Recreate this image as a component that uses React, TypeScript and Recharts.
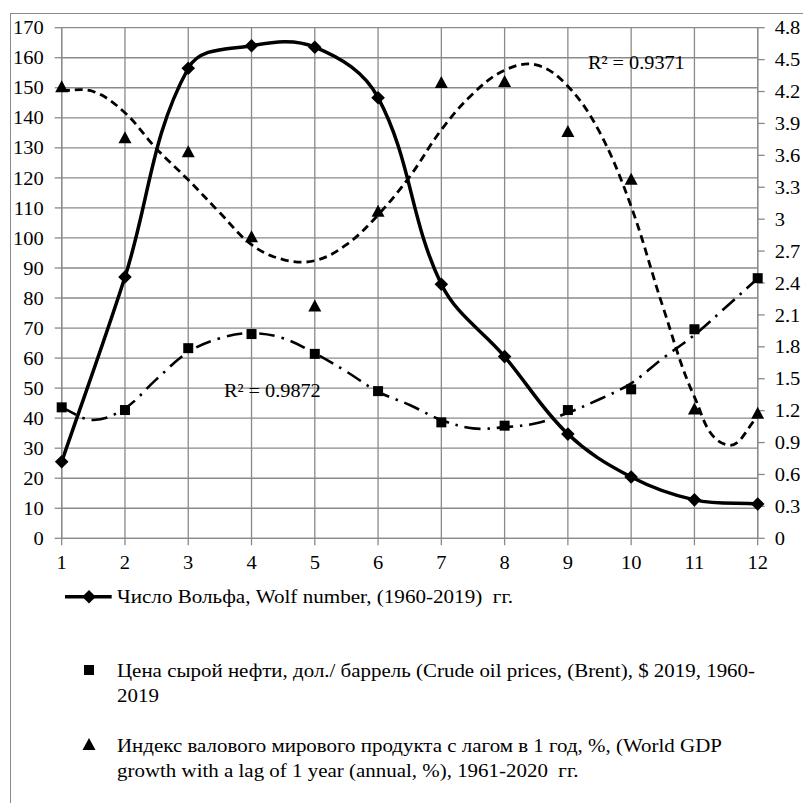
import React from 'react';
import { ComposedChart, Line, XAxis, YAxis, CartesianGrid } from 'recharts';

// ---- data ----
const categories = [1, 2, 3, 4, 5, 6, 7, 8, 9, 10, 11, 12];
const wolfNumber = [25.5, 87, 156.5, 164, 163.5, 146.7, 84.6, 60.5, 34.7, 20.4, 12.8, 11.4];
const oilPrice = [43.6, 42.7, 63.3, 68, 61.4, 49, 38.6, 37.5, 42.7, 49.6, 69.6, 86.6];
const gdpGrowth = [4.24, 3.76, 3.63, 2.83, 2.18, 3.07, 4.28, 4.29, 3.82, 3.37, 1.21, 1.17];

const trendX = [1, 1.5, 2, 2.5, 3, 3.5, 4, 4.5, 5, 5.5, 6, 6.5, 7, 7.5, 8, 8.5, 9, 9.5, 10, 10.5, 11, 11.5, 12];
const oilTrend = [43.5, 39.4, 43.3, 53, 62, 66.6, 68.3, 66.6, 61.6, 55.5, 48.8, 44.4, 39.4, 36.6, 37, 38.3, 41.8, 46.3, 51.6, 59.9, 67.7, 77, 86.5];
const gdpTrend = [4.21, 4.2, 4.0, 3.66, 3.37, 3.06, 2.76, 2.62, 2.61, 2.76, 3.04, 3.4, 3.84, 4.18, 4.4, 4.45, 4.25, 3.82, 3.12, 2.18, 1.33, 0.88, 1.14];

const leftTicks = [0, 10, 20, 30, 40, 50, 60, 70, 80, 90, 100, 110, 120, 130, 140, 150, 160, 170];
const rightTicks = [0, 0.3, 0.6, 0.9, 1.2, 1.5, 1.8, 2.1, 2.4, 2.7, 3, 3.3, 3.6, 3.9, 4.2, 4.5, 4.8];

const wolfLabel = 'Число Вольфа, Wolf number, (1960-2019)  гг.';
const oilLabel = ['Цена сырой нефти, дол./ баррель (Crude oil prices, (Brent), $ 2019, 1960-', '2019'];
const gdpLabel = ['Индекс валового мирового продукта с лагом в 1 год, %, (World GDP', 'growth with a lag of 1 year (annual, %), 1961-2020  гг.'];
const oilR2 = 'R² = 0.9872';
const gdpR2 = 'R² = 0.9371';

// merged table
const rows = trendX.map((x, i) => {
  const ci = categories.indexOf(x);
  return {
    x,
    wolf: ci >= 0 ? wolfNumber[ci] : null,
    oil: ci >= 0 ? oilPrice[ci] : null,
    gdp: ci >= 0 ? gdpGrowth[ci] : null,
    oilTrend: oilTrend[i],
    gdpTrend: gdpTrend[i],
  };
});

// Excel-like smoothing curve
const SMOOTH = 0.36;
function excelCurve(context: any) {
  let pts: number[][] = [];
  return {
    areaStart() {},
    areaEnd() {},
    lineStart() {
      pts = [];
    },
    lineEnd() {
      const n = pts.length;
      if (!n) return;
      context.moveTo(pts[0][0], pts[0][1]);
      if (n === 1) return;
      const tan = pts.map((p, i) => {
        const a = pts[Math.max(0, i - 1)];
        const b = pts[Math.min(n - 1, i + 1)];
        const dx = b[0] - a[0];
        const dy = b[1] - a[1];
        const l = Math.hypot(dx, dy) || 1;
        return [dx / l, dy / l];
      });
      for (let i = 0; i < n - 1; i++) {
        const p0 = pts[i];
        const p1 = pts[i + 1];
        const k = Math.hypot(p1[0] - p0[0], p1[1] - p0[1]) * SMOOTH;
        context.bezierCurveTo(
          p0[0] + tan[i][0] * k,
          p0[1] + tan[i][1] * k,
          p1[0] - tan[i + 1][0] * k,
          p1[1] - tan[i + 1][1] * k,
          p1[0],
          p1[1]
        );
      }
    },
    point(x: number, y: number) {
      pts.push([+x, +y]);
    },
  };
}

const FONT = "'Liberation Serif', 'Times New Roman', serif";
const GRID = '#8a8a8a';
const SX = 1.08;

const Diamond = (props: any) => {
  const { cx, cy, index } = props;
  if (cx == null || cy == null || props.value == null) return <g key={`d${index}`} />;
  const r = 6.8;
  return <path key={`d${index}`} d={`M${cx},${cy - r}L${cx + r},${cy}L${cx},${cy + r}L${cx - r},${cy}Z`} fill="#000" />;
};
const Square = (props: any) => {
  const { cx, cy, index } = props;
  if (cx == null || cy == null || props.value == null) return <g key={`s${index}`} />;
  const r = 5;
  return <rect key={`s${index}`} x={cx - r} y={cy - r} width={2 * r} height={2 * r} fill="#000" />;
};
const Triangle = (props: any) => {
  const { cx, cy, index } = props;
  if (cx == null || cy == null || props.value == null) return <g key={`t${index}`} />;
  return <path key={`t${index}`} d={`M${cx},${cy - 7}L${cx + 6.5},${cy + 5}L${cx - 6.5},${cy + 5}Z`} fill="#000" />;
};

const makeTick = (anchor: 'start' | 'middle' | 'end', dy: string) => (props: any) => {
  const { x, y, payload } = props;
  return (
    <g transform={`translate(${x},${y}) scale(${SX},1)`}>
      <text x={0} y={0} dy={dy} textAnchor={anchor} fill="#000" fontSize={19} fontFamily={FONT}>
        {String(payload.value)}
      </text>
    </g>
  );
};
const LeftTick = makeTick('end', '0.35em');
const RightTick = makeTick('start', '0.35em');
const BottomTick = makeTick('middle', '0.71em');

const textBase: React.CSSProperties = {
  position: 'absolute',
  fontSize: 19,
  lineHeight: '25px',
  whiteSpace: 'pre',
  color: '#000',
  transformOrigin: '0 0',
  fontFamily: FONT,
};

export default function App() {
  return (
    <div style={{ position: 'fixed', left: 0, top: 0, width: 803, height: 803, overflow: 'hidden', background: '#fff', fontFamily: FONT }}>
      <div style={{ position: 'absolute', left: 9.5, top: 12.5, width: 900, height: 900, border: `1px solid ${GRID}` }} />
      <div style={{ position: 'absolute', left: 0, top: 0 }}>
        <ComposedChart width={803} height={803} data={rows} margin={{ top: 27.7, right: 0, bottom: 234.7, left: 0 }}>
          <CartesianGrid yAxisId="left" stroke={GRID} strokeWidth={1.3} />
          <XAxis
            dataKey="x"
            type="number"
            domain={[1, 12]}
            ticks={categories}
            interval={0}
            height={30}
            tickSize={7}
            tickMargin={10}
            tick={BottomTick}
            axisLine={{ stroke: GRID, strokeWidth: 1.3 }}
            tickLine={{ stroke: GRID, strokeWidth: 1.3 }}
          />
          <YAxis
            yAxisId="left"
            domain={[0, 170]}
            ticks={leftTicks}
            interval={0}
            width={61.7}
            tickSize={7}
            tickMargin={11}
            tick={LeftTick}
            axisLine={{ stroke: GRID, strokeWidth: 1.3 }}
            tickLine={{ stroke: GRID, strokeWidth: 1.3 }}
          />
          <YAxis
            yAxisId="right"
            orientation="right"
            domain={[0, 4.8]}
            ticks={rightTicks}
            interval={0}
            width={45.3}
            tickSize={7}
            tickMargin={10}
            tick={RightTick}
            axisLine={{ stroke: GRID, strokeWidth: 1.3 }}
            tickLine={{ stroke: GRID, strokeWidth: 1.3 }}
          />
          <Line yAxisId="left" dataKey="oilTrend" type={excelCurve as any} stroke="#000" strokeWidth={2.6} strokeDasharray="16 7 2.5 7" dot={false} activeDot={false} isAnimationActive={false} />
          <Line yAxisId="right" dataKey="gdpTrend" type={excelCurve as any} stroke="#000" strokeWidth={2.8} strokeDasharray="8 5" dot={false} activeDot={false} isAnimationActive={false} />
          <Line yAxisId="left" dataKey="wolf" type={excelCurve as any} connectNulls stroke="#000" strokeWidth={3.5} dot={Diamond} activeDot={false} isAnimationActive={false} />
          <Line yAxisId="left" dataKey="oil" stroke="none" strokeWidth={0} dot={Square} activeDot={false} isAnimationActive={false} />
          <Line yAxisId="right" dataKey="gdp" stroke="none" strokeWidth={0} dot={Triangle} activeDot={false} isAnimationActive={false} />
        </ComposedChart>
      </div>

      {/* trendline R² labels */}
      <div style={{ ...textBase, left: 224, top: 379, lineHeight: '24px', transform: 'scaleX(1.065)' }}>{oilR2}</div>
      <div style={{ ...textBase, left: 588, top: 51, lineHeight: '24px', transform: 'scaleX(1.065)' }}>{gdpR2}</div>

      {/* legend */}
      <svg style={{ position: 'absolute', left: 0, top: 0 }} width={803} height={803} pointerEvents="none">
        <line x1={65} y1={596.7} x2={111.7} y2={596.7} stroke="#000" strokeWidth={3.5} />
        <path d="M89,590L95.8,596.7L89,603.4L82.2,596.7Z" fill="#000" />
        <rect x={84} y={665} width={10} height={10} fill="#000" />
        <path d="M89,738L95.5,750L82.5,750Z" fill="#000" />
      </svg>
      <div style={{ ...textBase, left: 116.7, top: 584, transform: 'scaleX(1.11)' }}>{wolfLabel}</div>
      <div style={{ ...textBase, left: 116.7, top: 657.5, transform: 'scaleX(1.102)' }}>
        {oilLabel[0]}
        <br />
        {oilLabel[1]}
      </div>
      <div style={{ ...textBase, left: 116.7, top: 732.5, transform: 'scaleX(1.102)' }}>
        {gdpLabel[0]}
        <br />
        {gdpLabel[1]}
      </div>
    </div>
  );
}
